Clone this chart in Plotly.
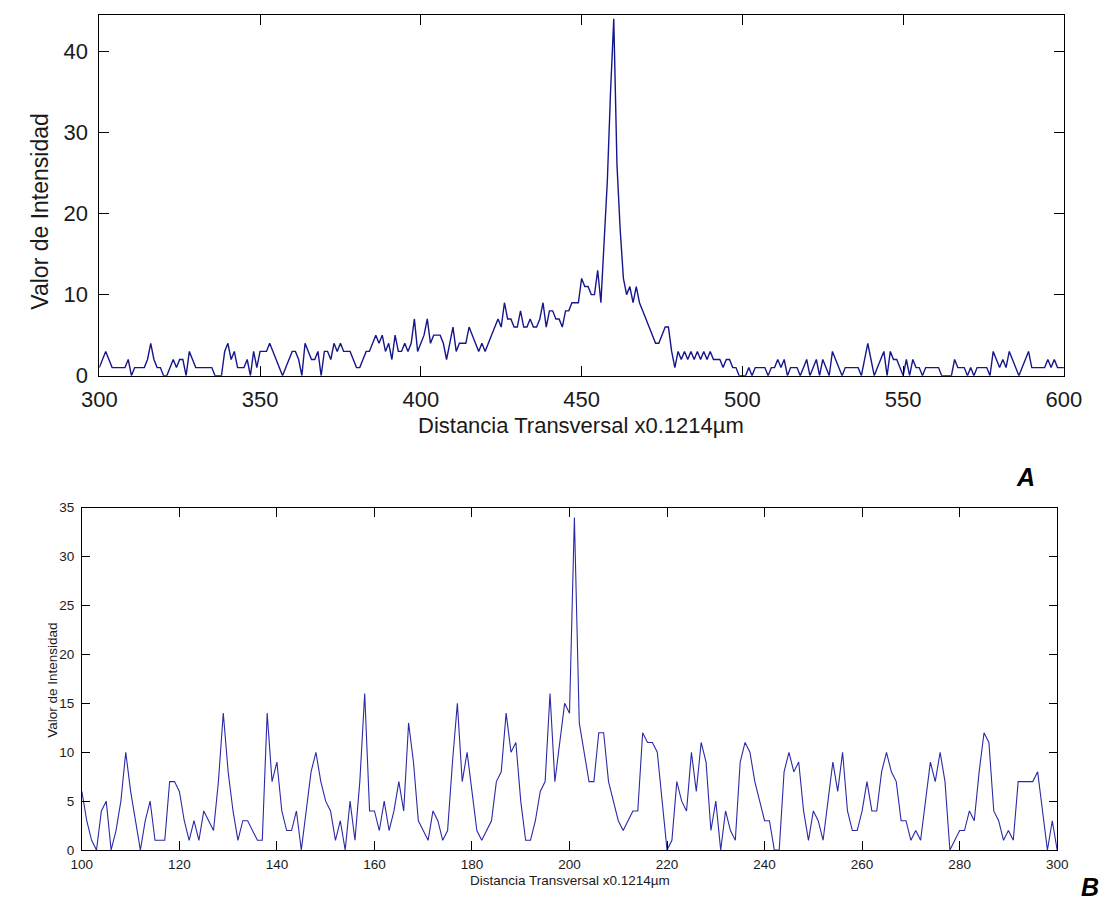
import plotly.graph_objects as go

W, H = 1110, 911

# ---- Panel A: intensity profile across positions 300-600 ----
pos_a = list(range(300, 601))
int_a = [
    1, 2, 3, 2, 1, 1, 1, 1, 1, 2,
    0, 1, 1, 1, 1, 2, 4, 2, 1, 1,
    0, 0, 1, 2, 1, 2, 2, 0, 3, 2,
    1, 1, 1, 1, 1, 1, 0, 0, 0, 3,
    4, 2, 3, 1, 1, 1, 2, 0, 3, 1,
    3, 3, 3, 4, 3, 2, 1, 0, 1, 2,
    3, 3, 2, 0, 4, 3, 2, 2, 3, 0,
    3, 3, 2, 4, 3, 4, 3, 3, 3, 2,
    1, 1, 2, 3, 3, 4, 5, 4, 5, 3,
    4, 2, 5, 3, 3, 4, 3, 4, 7, 3,
    4, 5, 7, 4, 5, 5, 5, 4, 2, 4,
    6, 3, 4, 4, 4, 6, 5, 4, 3, 4,
    3, 4, 5, 6, 7, 6, 9, 7, 7, 6,
    6, 8, 6, 6, 7, 6, 6, 7, 9, 6,
    8, 8, 7, 7, 6, 8, 8, 9, 9, 9,
    12, 11, 11, 10, 10, 13, 9, 17, 24, 35,
    44, 26, 18, 12, 10, 11, 9, 11, 9, 8,
    7, 6, 5, 4, 4, 5, 6, 6, 3, 1,
    3, 2, 3, 2, 3, 2, 3, 2, 3, 2,
    3, 2, 2, 2, 1, 2, 2, 1, 1, 0,
    0, 0, 1, 0, 1, 1, 1, 1, 0, 1,
    1, 2, 1, 2, 0, 1, 1, 1, 0, 1,
    2, 0, 1, 2, 0, 2, 1, 0, 3, 2,
    1, 0, 1, 1, 1, 1, 1, 0, 2, 4,
    2, 0, 1, 2, 3, 0, 3, 2, 2, 1,
    0, 2, 0, 2, 1, 1, 0, 1, 1, 1,
    1, 1, 0, 0, 0, 0, 2, 1, 1, 1,
    0, 1, 0, 1, 1, 1, 1, 0, 3, 2,
    1, 2, 1, 3, 2, 1, 0, 1, 2, 3,
    1, 1, 1, 1, 1, 2, 1, 2, 1, 1,
    1,
]
ticks_xa = [300, 350, 400, 450, 500, 550, 600]
ticks_ya = [0, 10, 20, 30, 40]

# ---- Panel B: intensity profile across positions 100-300 ----
pos_b = list(range(100, 301))
int_b = [
    6, 3, 1, 0, 4, 5, 0, 2, 5, 10,
    6, 3, 0, 3, 5, 1, 1, 1, 7, 7,
    6, 3, 1, 3, 1, 4, 3, 2, 7, 14,
    8, 4, 1, 3, 3, 2, 1, 1, 14, 7,
    9, 4, 2, 2, 4, 0, 4, 8, 10, 7,
    5, 4, 1, 3, 0, 5, 1, 7, 16, 4,
    4, 2, 5, 2, 4, 7, 4, 13, 9, 3,
    2, 1, 4, 3, 1, 2, 9, 15, 7, 10,
    6, 2, 1, 2, 3, 7, 8, 14, 10, 11,
    5, 1, 1, 3, 6, 7, 16, 7, 11, 15,
    14, 34, 13, 10, 7, 7, 12, 12, 7, 5,
    3, 2, 3, 4, 4, 12, 11, 11, 10, 5,
    0, 1, 7, 5, 4, 10, 6, 11, 9, 2,
    5, 0, 4, 2, 1, 9, 11, 10, 7, 5,
    3, 3, 0, 0, 8, 10, 8, 9, 4, 1,
    4, 3, 1, 5, 9, 6, 10, 4, 2, 2,
    4, 7, 4, 4, 8, 10, 8, 7, 3, 3,
    1, 2, 1, 5, 9, 7, 10, 7, 0, 1,
    2, 2, 4, 3, 8, 12, 11, 4, 3, 1,
    2, 1, 7, 7, 7, 7, 8, 4, 0, 3,
    0,
]
ticks_xb = list(range(100, 301, 20))
ticks_yb = list(range(0, 36, 5))

x_title = "Distancia Transversal x0.1214\u00b5m"
y_title = "Valor de Intensidad"
FONT = "Liberation Sans, Arial, sans-serif"
INK = "#1a1a1a"


def hdom(left, right):
    return [left / W, right / W]


def vdom(top, bottom):
    return [1 - bottom / H, 1 - top / H]


def axis_style(size, ticklen, standoff):
    return dict(
        showline=True, linecolor="black", linewidth=1, mirror="ticks",
        ticks="inside", ticklen=ticklen, tickcolor="black", tickwidth=1,
        showgrid=False, zeroline=False,
        tickfont=dict(family=FONT, size=size, color=INK),
        ticklabelstandoff=standoff,
    )


fig = go.Figure()
fig.add_trace(go.Scatter(
    x=pos_a, y=int_a, mode="lines", xaxis="x", yaxis="y",
    line=dict(color="#16168c", width=1.4), showlegend=False,
))
fig.add_trace(go.Scatter(
    x=pos_b, y=int_b, mode="lines", xaxis="x2", yaxis="y2",
    line=dict(color="#2a2aa6", width=1.1), showlegend=False,
))

fig.update_layout(
    width=W, height=H,
    margin=dict(l=0, r=0, t=0, b=0),
    paper_bgcolor="white", plot_bgcolor="white",
    xaxis=dict(domain=hdom(84, 1081), range=[300, 600], tickvals=ticks_xa,
               anchor="y", **axis_style(22, 10, 4)),
    yaxis=dict(domain=vdom(8, 377), range=[0, 44.5], tickvals=ticks_ya,
               anchor="x", **axis_style(22, 10, 6)),
    xaxis2=dict(domain=hdom(66, 1074), range=[100, 300], tickvals=ticks_xb,
                anchor="y2", **axis_style(13.5, 9, 2)),
    yaxis2=dict(domain=vdom(512, 862), range=[0, 35], tickvals=ticks_yb,
                anchor="x2", **axis_style(13.5, 8, 4)),
)

annotations = [
    # panel A axis titles
    dict(text=x_title, x=582 / W, y=1 - 428 / H, font=dict(size=22)),
    dict(text=y_title, x=23 / W, y=1 - 209 / H, textangle=-90, font=dict(size=23)),
    # panel B axis titles
    dict(text=x_title, x=570 / W, y=1 - 893 / H, font=dict(size=13.5)),
    dict(text=y_title, x=36 / W, y=1 - 688 / H, textangle=-90, font=dict(size=13.5)),
    # panel letters
    dict(text="<b><i>A</i></b>", x=1041 / W, y=1 - 481 / H, font=dict(size=25, color="black")),
    dict(text="<b><i>B</i></b>", x=1097 / W, y=1 - 900 / H, xanchor="left",
         font=dict(size=25, color="black")),
]
for a in annotations:
    a.setdefault("xanchor", "center")
    a.setdefault("yanchor", "middle")
    a["xref"] = "paper"
    a["yref"] = "paper"
    a["showarrow"] = False
    f = a["font"]
    f.setdefault("family", FONT)
    f.setdefault("color", INK)
fig.update_layout(annotations=annotations)

fig.write_html("out.html")
